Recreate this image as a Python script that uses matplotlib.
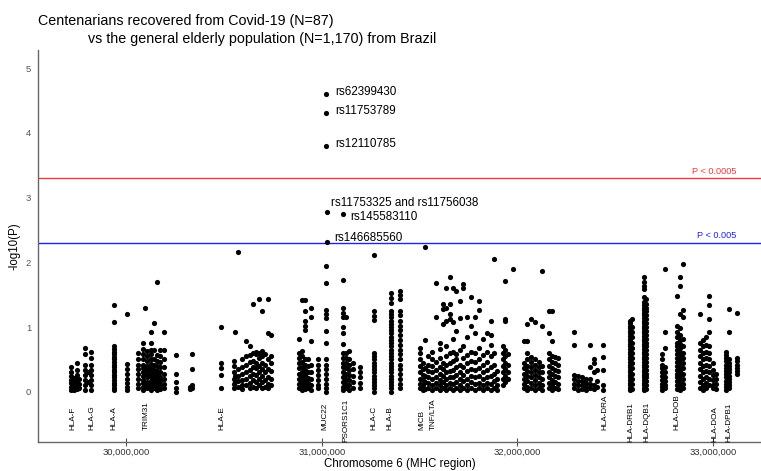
import matplotlib
matplotlib.use("Agg")
import matplotlib.pyplot as plt
from matplotlib.ticker import FuncFormatter, FixedLocator

plt.rcParams['font.family'] = ['Liberation Sans', 'DejaVu Sans']

# ---------------- data (positions in Mb, values are -log10(P)) ----------------
# HLA-F / HLA-G / HLA-A / TRIM31 block
blk1_pos = [29.719, 29.734, 29.750, 29.760, 29.789, 29.806, 29.823,
            29.939, 30.005, 30.061, 30.087, 30.097, 30.107, 30.128, 30.143,
            30.158, 30.174, 30.194, 30.256, 30.327, 30.337]
blk1_vals = [
    [0.03, 0.08, 0.13, 0.18, 0.24, 0.30, 0.38],
    [0.02, 0.06, 0.11, 0.16, 0.21],
    [0.04, 0.10, 0.15, 0.20, 0.26, 0.33, 0.45],
    [0.05, 0.12, 0.20],
    [0.67, 0.59, 0.41, 0.33, 0.26, 0.18, 0.10, 0.03],
    [0.30, 0.15],
    [0.62, 0.52, 0.41, 0.33, 0.26, 0.18, 0.10, 0.03],
    [0.02, 0.06, 0.10, 0.14, 0.18, 0.22, 0.26, 0.30, 0.34, 0.38, 0.42, 0.46,
     0.50, 0.54, 0.58, 0.62, 0.66, 0.70, 1.08, 1.34],
    [0.03, 0.08, 0.14, 0.20, 0.28, 0.35, 0.43, 1.20],
    [0.60, 0.50, 0.42, 0.35, 0.27, 0.20, 0.12, 0.05],
    [0.03, 0.08, 0.13, 0.18, 0.24, 0.30, 0.36, 0.42, 0.50, 0.58, 0.66, 0.76],
    [1.29],
    [0.05, 0.10, 0.15, 0.22, 0.28, 0.34, 0.40, 0.47, 0.55, 0.63],
    [0.02, 0.07, 0.12, 0.17, 0.22, 0.27, 0.32, 0.37, 0.43, 0.50, 0.58, 0.65, 0.75, 0.93],
    [0.05, 0.10, 0.16, 0.21, 0.28, 0.34, 0.42, 0.50, 0.64, 1.06],
    [0.02, 0.08, 0.14, 0.20, 0.26, 0.32, 0.40, 0.48, 0.56, 1.70],
    [0.04, 0.10, 0.17, 0.23, 0.30, 0.38, 0.46, 0.55, 0.65],
    [0.05, 0.12, 0.20, 0.28, 0.38, 0.50, 0.64, 0.92],
    [0.00, 0.05, 0.15, 0.27, 0.57],
    [0.04, 0.07],
    [0.05, 0.10, 0.35, 0.59],
]

# HLA-E block
blk2_pos = [30.486, 30.552, 30.557, 30.572, 30.593, 30.613, 30.634, 30.649,
            30.664, 30.680, 30.695, 30.710, 30.726, 30.741]
blk2_vals = [
    [0.05, 0.26, 0.36, 0.44, 1.00],
    [0.05, 0.12, 0.20, 0.30, 0.40, 0.47],
    [0.93, 0.25, 0.15],
    [0.08, 0.16, 0.25, 0.35, 2.16],
    [0.04, 0.10, 0.18, 0.28, 0.38, 0.50],
    [0.10, 0.20, 0.30, 0.42, 0.55, 0.78],
    [0.05, 0.14, 0.24, 0.34, 0.46, 0.56, 0.70],
    [0.08, 0.18, 0.28, 0.38, 0.48, 0.60, 1.35],
    [0.06, 0.15, 0.26, 0.36, 0.45, 0.58, 0.62],
    [0.10, 0.20, 0.30, 0.40, 0.52, 0.60, 1.43],
    [0.05, 0.15, 0.25, 0.35, 0.45, 0.55, 0.63, 1.25],
    [0.08, 0.18, 0.30, 0.42, 0.58],
    [0.05, 0.12, 0.22, 0.35, 0.50, 0.90, 1.43],
    [0.10, 0.20, 0.32, 0.45, 0.55, 0.88],
]

# MUC22 / PSORS1C1 / HLA-C / HLA-B block
blk3_pos = [30.884, 30.899, 30.915, 30.930, 30.945, 30.981, 31.022, 31.109,
            31.124, 31.140, 31.160, 31.196, 31.267, 31.354, 31.399]
blk3_vals = [
    [0.05, 0.12, 0.20, 0.28, 0.36, 0.44, 0.52, 0.60, 0.81],
    [0.02, 0.08, 0.15, 0.22, 0.30, 0.38, 0.46, 0.55, 0.63, 1.42],
    [0.04, 0.10, 0.18, 0.26, 0.34, 0.42, 0.50, 0.95, 1.02, 1.10, 1.24, 1.42],
    [0.06, 0.13, 0.21, 0.30, 0.40, 0.50],
    [0.03, 0.10, 0.20, 0.30, 0.42, 0.78, 1.16, 1.29],
    [0.05, 0.10, 0.18, 0.26, 0.34, 0.42, 0.50],
    [1.94, 1.68, 1.26, 1.20, 1.14, 0.94, 0.76, 0.50, 0.42, 0.35, 0.28, 0.20,
     0.12, 0.05, 0.00],
    [1.72, 1.30, 1.22, 1.15, 1.00, 0.90, 0.73, 0.60, 0.52, 0.45, 0.38, 0.30,
     0.22, 0.15, 0.08, 0.02],
    [0.05, 0.12, 0.20, 0.28, 0.36, 0.44, 0.52, 0.60, 1.15],
    [0.02, 0.10, 0.18, 0.26, 0.34, 0.42, 0.50, 0.63],
    [0.06, 0.15, 0.25, 0.35, 0.45],
    [0.05, 0.13, 0.22, 0.30, 0.38],
    [2.11, 1.24, 1.17, 1.11, 0.60, 0.55, 0.50, 0.45, 0.40, 0.35, 0.30, 0.25,
     0.20, 0.15, 0.10, 0.05, 0.00],
    [1.52, 1.45, 1.37, 1.25, 1.20, 1.15, 1.10, 1.05, 1.00, 0.95, 0.90, 0.85,
     0.80, 0.75, 0.70, 0.65, 0.60, 0.55, 0.50, 0.45, 0.40, 0.35, 0.30, 0.25,
     0.20, 0.15, 0.10, 0.05, 0.00],
    [1.55, 1.50, 1.44, 1.25, 1.18, 1.10, 1.02, 0.95, 0.88, 0.80, 0.72, 0.65,
     0.58, 0.50, 0.42, 0.35, 0.28, 0.20, 0.12, 0.05],
]

# MICB / TNF/LTA block
blk4_pos = [31.503, 31.518, 31.528, 31.544, 31.564, 31.584, 31.605, 31.620,
            31.635, 31.656, 31.671, 31.686, 31.707, 31.722, 31.743, 31.763,
            31.784, 31.804, 31.825, 31.845, 31.865, 31.881, 31.896, 31.927,
            31.937, 31.953, 31.978]
blk4_vals = [
    [0.05, 0.12, 0.20, 0.30, 0.40, 0.50, 0.60, 0.68],
    [0.02, 0.10, 0.18, 0.26, 0.35, 0.45],
    [0.04, 0.15, 0.25, 0.36, 0.80, 2.23],
    [0.06, 0.14, 0.22, 0.32, 0.42, 0.55],
    [0.03, 0.10, 0.20, 0.30, 0.40, 0.50, 0.62],
    [0.05, 0.13, 0.22, 0.34, 0.46, 1.16, 1.68],
    [0.02, 0.10, 0.18, 0.27, 0.38, 0.52, 0.66, 0.75],
    [0.05, 0.15, 0.25, 0.35, 0.45, 1.04, 1.28, 1.35],
    [0.03, 0.10, 0.20, 0.30, 0.42, 0.55, 0.70, 1.10, 1.30, 1.60],
    [0.06, 0.14, 0.22, 0.32, 0.44, 0.60, 1.12, 1.20, 1.35, 1.77],
    [0.02, 0.12, 0.22, 0.34, 0.48, 0.62, 0.82, 1.08, 1.60],
    [0.05, 0.15, 0.26, 0.38, 0.50, 0.58, 0.94, 1.55],
    [0.03, 0.10, 0.20, 0.30, 0.42, 0.65, 1.14, 1.40],
    [0.06, 0.16, 0.26, 0.38, 0.52, 0.70, 1.60, 1.66],
    [0.02, 0.10, 0.20, 0.32, 0.44, 0.56, 0.84, 1.15],
    [0.05, 0.15, 0.25, 0.35, 0.48, 0.62, 1.02, 1.47],
    [0.03, 0.12, 0.22, 0.34, 0.46, 0.60, 0.90, 1.15],
    [0.06, 0.14, 0.24, 0.36, 0.50, 0.68, 1.26, 1.40],
    [0.02, 0.10, 0.20, 0.30, 0.42, 0.56, 0.82],
    [0.05, 0.13, 0.22, 0.33, 0.46, 0.62, 0.90],
    [0.03, 0.12, 0.24, 0.38, 0.55, 0.72, 0.88, 1.09],
    [0.06, 0.16, 0.28, 0.42, 0.60, 2.05],
    [0.02, 0.10, 0.20, 0.32],
    [0.10, 0.20, 0.30, 0.40, 0.50, 0.60, 0.70],
    [0.15, 0.25, 0.35, 0.45, 0.55, 0.65, 1.10, 1.12, 1.71],
    [0.20, 0.30, 0.42, 0.58],
    [1.89],
]

# 32.0-32.45 Mb block
blk5_pos = [32.034, 32.049, 32.070, 32.090, 32.111, 32.126, 32.162, 32.177,
            32.192, 32.208, 32.290, 32.310, 32.330, 32.351, 32.371, 32.392,
            32.407, 32.438]
blk5_vals = [
    [0.05, 0.12, 0.20, 0.28, 0.36, 0.44, 0.79],
    [0.02, 0.08, 0.16, 0.24, 0.32, 0.40, 0.50, 0.60, 0.79, 1.04],
    [0.05, 0.13, 0.22, 0.30, 0.38, 0.46, 0.54, 1.13],
    [0.03, 0.10, 0.18, 0.26, 0.34, 0.42, 0.50, 1.08],
    [0.06, 0.14, 0.22, 0.30, 0.38, 0.46],
    [0.02, 0.10, 0.20, 0.30, 0.40, 1.01, 1.86],
    [0.05, 0.13, 0.22, 0.30, 0.40, 0.50, 0.60, 0.90, 1.25],
    [0.03, 0.10, 0.18, 0.27, 0.36, 0.46, 0.55, 0.78, 1.25],
    [0.06, 0.15, 0.24, 0.34, 0.44, 0.54],
    [0.04, 0.12, 0.22, 0.32, 0.42, 0.52],
    [0.05, 0.12, 0.20, 0.26, 0.72, 0.92],
    [0.03, 0.10, 0.17, 0.25],
    [0.04, 0.10, 0.16, 0.22],
    [0.02, 0.08, 0.14, 0.20],
    [0.05, 0.12, 0.20, 0.38, 0.72],
    [0.04, 0.10, 0.30, 0.44, 0.50],
    [0.08, 0.16, 0.34],
    [0.03, 0.10, 0.34, 0.54, 0.72],
]

# class II block (HLA-DRB1 ... HLA-DPB1)
blk6_pos = [32.576, 32.586, 32.647, 32.657, 32.739, 32.754, 32.815, 32.831,
            32.846, 32.933, 32.949, 32.964, 32.980, 33.000, 33.015, 33.066,
            33.082, 33.123]
blk6_vals = [
    [0.02, 0.06, 0.10, 0.14, 0.18, 0.22, 0.26, 0.30, 0.34, 0.38, 0.42, 0.46,
     0.50, 0.54, 0.58, 0.62, 0.66, 0.70, 0.74, 0.78, 0.82, 0.86, 0.90, 0.94,
     0.98, 1.02, 1.06, 1.10],
    [0.04, 0.12, 0.20, 0.28, 0.36, 0.44, 0.52, 0.60, 0.68, 0.76, 0.84, 0.92,
     1.00, 1.13],
    [0.02, 0.06, 0.10, 0.14, 0.18, 0.22, 0.26, 0.30, 0.34, 0.38, 0.42, 0.46,
     0.50, 0.54, 0.58, 0.62, 0.66, 0.70, 0.74, 0.78, 0.82, 0.86, 0.90, 0.94,
     0.98, 1.02, 1.06, 1.10, 1.14, 1.18, 1.22, 1.26, 1.30, 1.34, 1.38, 1.46,
     1.58, 1.64, 1.70, 1.77],
    [0.04, 0.10, 0.16, 0.22, 0.28, 0.34, 0.40, 0.46, 0.52, 0.58, 0.64, 0.70,
     0.76, 0.82, 0.88, 0.94, 1.00, 1.06, 1.12, 1.18, 1.24, 1.30, 1.36, 1.44],
    [0.02, 0.07, 0.12, 0.18, 0.24, 0.30, 0.36, 0.42, 0.50, 0.59],
    [0.05, 0.10, 0.16, 0.22, 0.30, 0.38, 0.67, 0.93, 1.89],
    [0.04, 0.10, 0.16, 0.22, 0.28, 0.34, 0.40, 0.46, 0.52, 0.58, 0.64, 0.70,
     0.76, 0.84, 0.92, 1.02, 1.48],
    [0.02, 0.08, 0.14, 0.20, 0.26, 0.32, 0.38, 0.44, 0.50, 0.56, 0.62, 0.68,
     0.74, 0.80, 0.88, 0.98, 1.20, 1.64, 1.78],
    [0.05, 0.12, 0.20, 0.28, 0.36, 0.44, 0.52, 0.60, 0.70, 0.82, 1.15, 1.26, 1.98],
    [0.05, 0.15, 0.25, 0.35, 0.45, 0.55, 0.65, 0.75, 1.20],
    [0.02, 0.10, 0.20, 0.30, 0.40, 0.50, 0.60, 0.70, 0.80],
    [0.05, 0.13, 0.22, 0.32, 0.42, 0.52, 0.62, 0.72, 0.85],
    [0.10, 0.20, 0.30, 0.40, 0.50, 0.60, 0.70, 0.93, 1.13, 1.34, 1.48],
    [0.05, 0.10, 0.18, 0.26, 0.34, 0.45],
    [0.04, 0.12, 0.20, 0.28],
    [0.02, 0.07, 0.12, 0.17, 0.22, 0.27, 0.32, 0.37, 0.42, 0.47, 0.52, 0.57, 0.62],
    [0.05, 0.10, 0.15, 0.20, 0.25, 0.30, 0.35, 0.40, 0.45, 0.50, 0.93, 1.28],
    [0.27, 0.32, 0.37, 0.42, 0.47, 0.52, 1.21],
]

# top SNPs (labelled)
top_snp_names = ["rs62399430", "rs11753789", "rs12110785",
                 "rs11753325 and rs11756038", "rs145583110", "rs146685560"]
top_snp_pos = [31.022, 31.022, 31.022, 31.025, 31.110, 31.025]
top_snp_logp = [4.60, 4.31, 3.79, 2.77, 2.74, 2.32]

# gene labels
gene_names = ["HLA-F", "HLA-G", "HLA-A", "TRIM31", "HLA-E", "MUC22", "PSORS1C1",
              "HLA-C", "HLA-B", "MICB", "TNF/LTA", "HLA-DRA", "HLA-DRB1",
              "HLA-DQB1", "HLA-DOB", "HLA-DOA", "HLA-DPB1"]
gene_pos = [29.726, 29.824, 29.939, 30.102, 30.489, 31.017, 31.125, 31.264,
            31.350, 31.511, 31.571, 32.448, 32.580, 32.661, 32.815, 33.010, 33.083]

thresholds = [3.301, 2.301]
threshold_labels = ["P < 0.0005", "P < 0.005"]
x_ticks = [30_000_000, 31_000_000, 32_000_000, 33_000_000]
y_ticks = [0, 1, 2, 3, 4, 5]

# ---------------- figure ----------------
fig = plt.figure(figsize=(7.61, 4.71), dpi=100)
ax = fig.add_axes([38 / 761, 1 - 442 / 471, 1 - 38 / 761, (442 - 50) / 471])

xs, ys = [], []
for pos_list, val_list in [(blk1_pos, blk1_vals), (blk2_pos, blk2_vals),
                           (blk3_pos, blk3_vals), (blk4_pos, blk4_vals),
                           (blk5_pos, blk5_vals), (blk6_pos, blk6_vals)]:
    for p, vals in zip(pos_list, val_list):
        for v in vals:
            xs.append(p * 1e6)
            ys.append(v)
ax.scatter(xs, ys, s=14, color='black', linewidths=0, zorder=3)
ax.scatter([p * 1e6 for p in top_snp_pos], top_snp_logp, s=14, color='black',
           linewidths=0, zorder=3)

label_offsets = [(6.5, 1.5), (6.5, 1.5), (6.5, 1.5), (3.5, 7), (5, -2), (5.5, 2.5)]
for name, p, v, off in zip(top_snp_names, top_snp_pos, top_snp_logp, label_offsets):
    ax.annotate(name, (p * 1e6, v), xytext=off, textcoords='offset points',
                ha='left', va='center', fontsize=8.4, color='black', zorder=4)

colors = ['#F23A3A', '#2020F0']
for t, lab, c in zip(thresholds, threshold_labels, colors):
    ax.axhline(t, color=c, lw=1.0, zorder=2)
    ax.text(33.118e6, t + 0.04, lab, color=c, fontsize=6.6, ha='right', va='bottom')

long_names = {"PSORS1C1", "HLA-DRB1", "HLA-DQB1", "HLA-DOA", "HLA-DPB1"}
for name, p in zip(gene_names, gene_pos):
    yb = -0.78 if name in long_names else -0.595
    ax.text(p * 1e6, yb, name, rotation=90, ha='center', va='bottom',
            fontsize=5.9, color='black')

ax.set_xlim(29.550e6, 33.245e6)
ax.set_ylim(-0.777, 5.281)
ax.xaxis.set_major_locator(FixedLocator(x_ticks))
ax.xaxis.set_major_formatter(FuncFormatter(lambda v, _: f"{v:,.0f}"))
ax.set_yticks(y_ticks)
ax.tick_params(axis='x', direction='inout', length=6, width=0.8, color='#555555',
               labelsize=6.8, labelcolor='#333333', pad=1)
ax.tick_params(axis='y', length=0, labelsize=6.8, labelcolor='#555555', pad=5)
for s in ['top', 'right']:
    ax.spines[s].set_visible(False)
for s in ['left', 'bottom']:
    ax.spines[s].set_color('#666666')
    ax.spines[s].set_linewidth(1.0)

ax.set_xlabel("Chromosome 6 (MHC region)", fontsize=8.3, labelpad=1)
ax.set_ylabel("-log10(P)", fontsize=8.3, labelpad=4)

fig.text(38 / 761, 1 - 21 / 471, "Centenarians recovered from Covid-19 (N=87)",
         fontsize=10.3, ha='left', va='center')
fig.text(88 / 761, 1 - 39 / 471, "vs the general elderly population (N=1,170) from Brazil",
         fontsize=10.3, ha='left', va='center')

fig.savefig("out.png", dpi=100)
